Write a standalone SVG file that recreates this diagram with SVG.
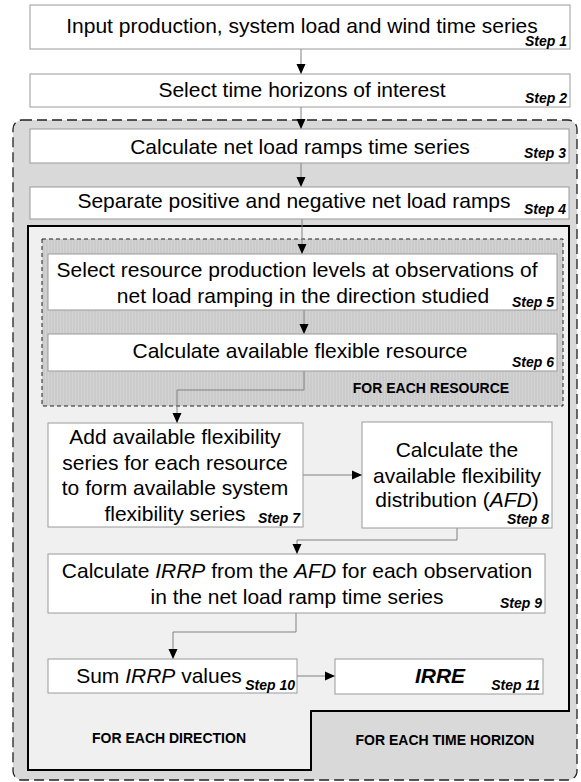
<svg xmlns="http://www.w3.org/2000/svg" width="581" height="782" viewBox="0 0 581 782">
<style>
text{font-family:"Liberation Sans",Arial,sans-serif;fill:#000}
.t{font-size:21px;text-anchor:middle}
.s{font-size:14px;font-weight:bold;font-style:italic;text-anchor:end}
.lab{font-size:14px;font-weight:bold;text-anchor:middle}
.box{fill:#fff;stroke:#9a9a9a;stroke-width:1}
.c{fill:none;stroke:#808080;stroke-width:1}
.i{font-style:italic}
</style>
<defs>
<pattern id="hatch" width="3" height="3" patternUnits="userSpaceOnUse">
<rect width="3" height="3" fill="#cbcbcb"/>
<rect width="1" height="3" fill="#d3d3d3"/>
</pattern>
<marker id="ah" markerUnits="userSpaceOnUse" markerWidth="10" markerHeight="10" viewBox="0 0 10 10" refX="10" refY="5" orient="auto">
<path d="M0,0.5 L10,5 L0,9.5 Z" fill="#000"/>
</marker>
</defs>

<g id="containers">
<rect id="time-horizon" x="13" y="120" width="564" height="660" rx="9" fill="#d9d9d9" stroke="#222" stroke-width="1.3" stroke-dasharray="10,5"/>
<path id="direction" d="M28,226 H569 V711 H311 V770 H28 Z" fill="#f0f0f0" stroke="#000" stroke-width="2"/>
<rect id="resource" x="42" y="239" width="521" height="167" fill="url(#hatch)" stroke="#222" stroke-width="1" stroke-dasharray="4,3"/>
</g>

<g id="connectors">
<line class="c" x1="301" y1="49" x2="301" y2="74" marker-end="url(#ah)"/>
<line class="c" x1="301" y1="107" x2="301" y2="129" marker-end="url(#ah)"/>
<line class="c" x1="301" y1="163" x2="301" y2="187" marker-end="url(#ah)"/>
<line class="c" x1="302" y1="219" x2="302" y2="254" marker-end="url(#ah)"/>
<line class="c" x1="304" y1="310" x2="304" y2="334" marker-end="url(#ah)"/>
<polyline class="c" points="304,371 304,390 177,390 177,423" marker-end="url(#ah)"/>
<line class="c" x1="303" y1="475" x2="362" y2="475" marker-end="url(#ah)"/>
<polyline class="c" points="457,528 457,540 297,540 297,554" marker-end="url(#ah)"/>
<polyline class="c" points="296,613 296,632 173,632 173,659" marker-end="url(#ah)"/>
<line class="c" x1="297" y1="676" x2="335" y2="676" marker-end="url(#ah)"/>
</g>

<g id="step1">
<rect class="box" x="30" y="5" width="540" height="44"/>
<text class="t" x="302" y="33">Input production, system load and wind time series</text>
<text class="s" x="567" y="46">Step 1</text>
</g>
<g id="step2">
<rect class="box" x="30" y="74" width="540" height="33"/>
<text class="t" x="302" y="97">Select time horizons of interest</text>
<text class="s" x="567" y="103">Step 2</text>
</g>
<g id="step3">
<rect class="box" x="30" y="129" width="539" height="34"/>
<text class="t" x="300" y="154">Calculate net load ramps time series</text>
<text class="s" x="566" y="158">Step 3</text>
</g>
<g id="step4">
<rect class="box" x="30" y="187" width="539" height="32"/>
<text class="t" x="294" y="208">Separate positive and negative net load ramps</text>
<text class="s" x="566" y="214">Step 4</text>
</g>
<g id="step5">
<rect class="box" x="48" y="254" width="509" height="56"/>
<text class="t" x="297" y="277">Select resource production levels at observations of</text>
<text class="t" x="303" y="303">net load ramping in the direction studied</text>
<text class="s" x="554" y="307">Step 5</text>
</g>
<g id="step6">
<rect class="box" x="48" y="334" width="509" height="37"/>
<text class="t" x="300" y="358">Calculate available flexible resource</text>
<text class="s" x="554" y="367">Step 6</text>
</g>
<text class="lab" x="431" y="393">FOR EACH RESOURCE</text>
<g id="step7">
<rect class="box" x="48" y="423" width="255" height="104"/>
<text class="t" x="175" y="444">Add available flexibility</text>
<text class="t" x="175" y="470">series for each resource</text>
<text class="t" x="175" y="495">to form available system</text>
<text class="t" x="175" y="521">flexibility series</text>
<text class="s" x="300" y="523">Step 7</text>
</g>
<g id="step8">
<rect class="box" x="362" y="422" width="190" height="106"/>
<text class="t" x="457" y="457">Calculate the</text>
<text class="t" x="457" y="483">available flexibility</text>
<text class="t" x="457" y="507">distribution (<tspan class="i">AFD</tspan>)</text>
<text class="s" x="549" y="524">Step 8</text>
</g>
<g id="step9">
<rect class="box" x="48" y="554" width="497" height="59"/>
<text class="t" x="297" y="578">Calculate <tspan class="i">IRRP</tspan> from the <tspan class="i">AFD</tspan> for each observation</text>
<text class="t" x="297" y="604">in the net load ramp time series</text>
<text class="s" x="542" y="608">Step 9</text>
</g>
<g id="step10">
<rect class="box" x="48" y="659" width="249" height="34"/>
<text class="t" x="159" y="683">Sum <tspan class="i">IRRP</tspan> values</text>
<text class="s" x="295" y="690">Step 10</text>
</g>
<g id="step11">
<rect class="box" x="335" y="659" width="208" height="35"/>
<text class="t" x="440" y="683" font-weight="bold" font-style="italic">IRRE</text>
<text class="s" x="540" y="690">Step 11</text>
</g>
<text class="lab" x="169" y="743">FOR EACH DIRECTION</text>
<text class="lab" x="445" y="745">FOR EACH TIME HORIZON</text>
</svg>
